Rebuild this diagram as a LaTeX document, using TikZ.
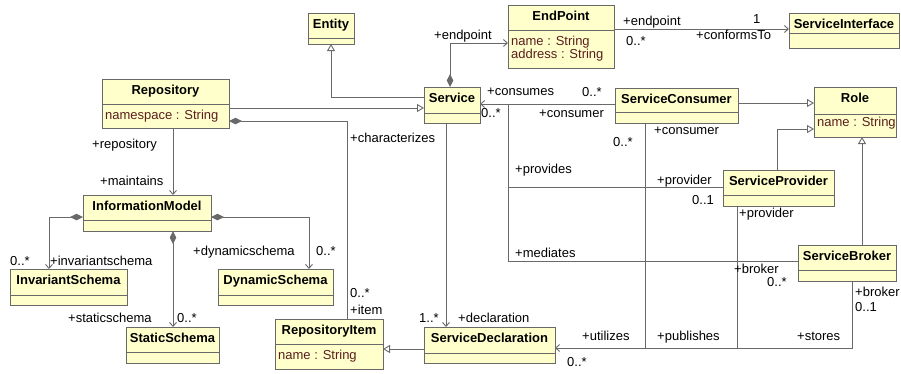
\documentclass[tikz,border=0pt]{standalone}
\usepackage{fontspec}
\setmainfont{Liberation Sans}
\usetikzlibrary{arrows.meta}
\definecolor{boxfill}{RGB}{255,255,204}
\definecolor{boxdraw}{RGB}{105,105,105}
\definecolor{lc}{RGB}{105,105,105}
\definecolor{attrc}{RGB}{90,30,30}
\tikzset{
 clsbox/.style={draw=boxdraw, fill=boxfill, line width=0.9pt, inner sep=0pt, outer sep=0pt},
 clsname/.style={font=\fontsize{13}{15}\selectfont\bfseries, anchor=base, inner sep=0pt},
 attr/.style={font=\fontsize{13}{15}\selectfont, text=attrc, anchor=base west, inner sep=0pt},
 lbl/.style={font=\fontsize{13}{15}\selectfont, anchor=base west, inner sep=0pt},
 conn/.style={draw=lc, line width=0.9pt},
 nav/.style={conn, -{Straight Barb[length=4pt,width=7pt]}},
 gen/.style={conn, -{Triangle[length=7pt,width=8pt,fill=white]}},
 comp/.style={conn, {Diamond[length=13pt,width=6.5pt,fill=lc]}-},
 compnav/.style={conn, {Diamond[length=13pt,width=6.5pt,fill=lc]}-{Straight Barb[length=4pt,width=7pt]}},
}
\newcommand{\UMLbox}[7]{%
  \node[clsbox, minimum width={(#4)-(#2)}, minimum height={(#6)-(#3)}] (#1) at ({((#2)+(#4))/2},{((#3)+(#6))/2}) {};
  \draw[draw=boxdraw, line width=0.9pt] (#2,#5) -- (#4,#5);
  \node[clsname] (#1-t) at ({((#2)+(#4))/2},{(#3)+15}) {#7};
}
\begin{document}
\begin{tikzpicture}[x=1pt,y=-1pt]
\useasboundingbox (0,0) rectangle (901,373);
% classes
\UMLbox{ent}{308}{13}{354}{38}{44}{Entity}
\UMLbox{ep}{508}{5}{614}{30}{68}{EndPoint}
\node[attr] (ep-a1) at (511,45) {name : String};
\node[attr] (ep-a2) at (511,58) {address : String};
\UMLbox{si}{789}{13}{899}{33}{48}{ServiceInterface}
\UMLbox{repo}{102}{79}{229}{104}{128}{Repository}
\node[attr] (repo-a1) at (105,119) {namespace : String};
\UMLbox{svc}{424}{87}{480}{113}{123}{Service}
\UMLbox{sc}{615}{88}{738}{112}{123}{ServiceConsumer}
\UMLbox{role}{814}{87}{896}{114}{137}{Role}
\node[attr] (role-a1) at (817,126) {name : String};
\UMLbox{im}{83}{195}{211}{220}{231}{InformationModel}
\UMLbox{sp}{723}{170}{834}{195}{206}{ServiceProvider}
\UMLbox{sb}{798}{245}{896}{270}{281}{ServiceBroker}
\UMLbox{inv}{10}{269}{127}{295}{305}{InvariantSchema}
\UMLbox{dyn}{218}{269}{333}{295}{305}{DynamicSchema}
\UMLbox{stat}{126}{327}{219}{352}{363}{StaticSchema}
\UMLbox{ritem}{275}{319}{383}{344}{369}{RepositoryItem}
\node[attr] (ritem-a1) at (278,359) {name : String};
\UMLbox{sd}{424}{327}{555}{353}{363}{ServiceDeclaration}
% junction coordinates
\coordinate (jA) at (508,104);
\coordinate (mC) at (645,348);
\coordinate (mP) at (737,348);
% connectors
\draw[gen] (svc.west |- 0,97) -| (ent.south);
\draw[gen] (repo.east |- 0,108) -- (svc.west |- 0,108);
\draw[comp] (repo.east |- 0,121) -| (ritem.north -| 347,0);
\draw[nav] (repo.south -| 173,0) -- (im.north -| 173,0);
\draw[compnav] (im.west |- 0,217) -| (inv.north -| 49,0);
\draw[compnav] (im.south -| 173,0) -- (stat.north -| 173,0);
\draw[compnav] (im.east |- 0,217) -| (dyn.north -| 309,0);
\draw[compnav] (svc.north -| 450,0) |- (ep.west |- 0,43);
\draw[nav] (ep.east |- 0,29) -- (si.west |- 0,29);
\draw[nav] (sc.west |- 0,104) -- (svc.east |- 0,104);
\draw[conn] (jA) |- (sp.west |- 0,187);
\draw[conn] (jA) |- (sb.west |- 0,261);
\draw[nav] (sb.south -| 852,0) |- (sd.east |- 0,348);
\draw[conn] (sc.south -| 645,0) -- (mC);
\draw[conn] (sp.south -| 737,0) -- (mP);
\draw[nav] (svc.south -| 446,0) -- (sd.north -| 446,0);
\draw[gen] (sd.west |- 0,349) -- (ritem.east |- 0,349);
\draw[gen] (sc.east |- 0,103) -- (role.west |- 0,103);
\draw[gen] (sp.north -| 777,0) |- (role.west |- 0,129);
\draw[gen] (sb.north -| 862,0) -- (role.south -| 862,0);
% labels
\node[lbl] (l1) at (434,39) {+endpoint};
\node[lbl] (l2) at (623,25) {+endpoint};
\node[lbl] (l3) at (753,23) {1};
\node[lbl] (l4) at (626,45) {0..*};
\node[lbl] (l5) at (696,39) {+conformsTo};
\node[lbl] (l6) at (487,95) {+consumes};
\node[lbl] (l7) at (582,96) {0..*};
\node[lbl] (l8) at (481,117) {0..*};
\node[lbl] (l9) at (539,117) {+consumer};
\node[lbl] (l10) at (654,134) {+consumer};
\node[lbl] (l11) at (613,146) {0..*};
\node[lbl] (l12) at (515,173) {+provides};
\node[lbl] (l13) at (657,184) {+provider};
\node[lbl] (l14) at (692,204) {0..1};
\node[lbl] (l15) at (739,217) {+provider};
\node[lbl] (l16) at (515,257) {+mediates};
\node[lbl] (l17) at (734,273) {+broker};
\node[lbl] (l18) at (767,286) {0..*};
\node[lbl] (l19) at (855,296) {+broker};
\node[lbl] (l20) at (855,311) {0..1};
\node[lbl] (l21) at (582,340) {+utilizes};
\node[lbl] (l22) at (657,340) {+publishes};
\node[lbl] (l23) at (797,340) {+stores};
\node[lbl] (l24) at (567,366) {0..*};
\node[lbl] (l25) at (419,322) {1..*};
\node[lbl] (l26) at (458,322) {+declaration};
\node[lbl] (l27) at (350,297) {0..*};
\node[lbl] (l28) at (350,314) {+item};
\node[lbl] (l29) at (350,142) {+characterizes};
\node[lbl] (l30) at (92,148) {+repository};
\node[lbl] (l31) at (100,185) {+maintains};
\node[lbl] (l32) at (10,265) {0..*};
\node[lbl] (l33) at (50,265) {+invariantschema};
\node[lbl] (l34) at (193,255) {+dynamicschema};
\node[lbl] (l35) at (316,255) {0..*};
\node[lbl] (l36) at (68,322) {+staticschema};
\node[lbl] (l37) at (177,322) {0..*};
\end{tikzpicture}
\end{document}
